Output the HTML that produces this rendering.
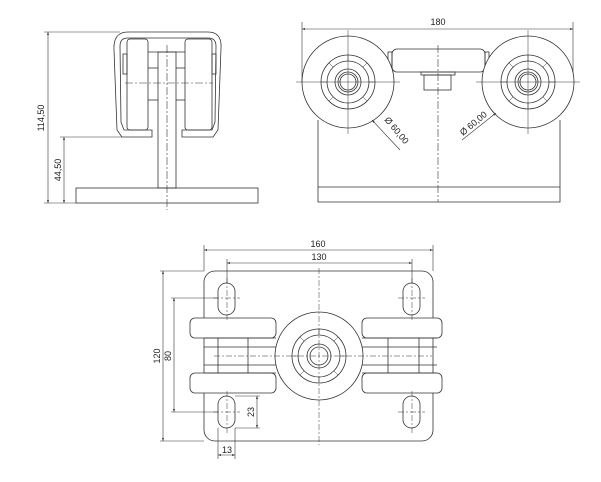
<!DOCTYPE html>
<html><head><meta charset="utf-8"><style>
html,body{margin:0;padding:0;background:#fff;}
svg{display:block;}
text{font-family:"Liberation Sans",sans-serif;font-size:9px;fill:#222;}
</style></head><body>
<svg width="601" height="482" viewBox="0 0 601 482" xmlns="http://www.w3.org/2000/svg">
<defs>
<marker id="a" viewBox="0 0 6 6" refX="6" refY="3" markerWidth="5" markerHeight="5" orient="auto-start-reverse"><path d="M0,1 L6,3 L0,5z" fill="#333"/></marker>
</defs>
<g fill="none" stroke="#333" stroke-width="0.8">
<!-- VIEW 1 -->
<path d="M122,137 L117,130 L114,50 Q113,32 128,32 L208,32 Q222,32 221,48 L218,130 L213,137 L182,137 L182,130 L212,130 L215,122 L216,46 Q216,38 208,38 L128,38 Q120,38 120,46 L121,122 L124,130 L152,130 L152,137 Z"/>
<rect x="127" y="39" width="21" height="91" rx="3"/>
<rect x="185" y="39" width="27" height="91" rx="3"/>
<rect x="123" y="54" width="4" height="20"/>
<rect x="212" y="54" width="4" height="20"/>
<line x1="148" y1="52" x2="185" y2="52"/>
<line x1="148" y1="68" x2="158" y2="68"/><line x1="176" y1="68" x2="185" y2="68"/>
<line x1="148" y1="100" x2="158" y2="100"/><line x1="176" y1="100" x2="185" y2="100"/>
<rect x="158" y="52" width="18" height="136"/>
<rect x="76" y="188" width="182" height="15"/>
<line x1="167" y1="45" x2="167" y2="210" stroke-dasharray="8,2,2,2" stroke-width="0.6"/>
<line x1="125" y1="83" x2="213" y2="83" stroke-dasharray="8,2,2,2" stroke-width="0.6"/>
<line x1="44" y1="32" x2="120" y2="32" stroke-width="0.6"/>
<line x1="44" y1="203" x2="76" y2="203" stroke-width="0.6"/>
<line x1="60" y1="137" x2="122" y2="137" stroke-width="0.6"/>
<line x1="48" y1="32" x2="48" y2="203" marker-start="url(#a)" marker-end="url(#a)" stroke-width="0.6"/>
<line x1="64" y1="137" x2="64" y2="203" marker-start="url(#a)" marker-end="url(#a)" stroke-width="0.6"/>

<!-- VIEW 2 -->
<line x1="302" y1="22" x2="302" y2="82" stroke-width="0.6"/>
<line x1="573" y1="22" x2="573" y2="82" stroke-width="0.6"/>
<line x1="302" y1="29" x2="573" y2="29" marker-start="url(#a)" marker-end="url(#a)" stroke-width="0.6"/>
<path d="M318,120 L318,202 L560,202 L560,120"/>
<line x1="318" y1="187" x2="560" y2="187"/>
<rect x="392" y="49" width="93" height="23" rx="5"/>
<rect x="388" y="52" width="4" height="16"/><rect x="485" y="52" width="4" height="16"/>
<rect x="421" y="72" width="34" height="3"/>
<rect x="424" y="75" width="27" height="15"/>
<line x1="438" y1="45" x2="438" y2="202" stroke-dasharray="8,2,2,2" stroke-width="0.6"/>
<g id="w">
<circle cx="348" cy="82" r="46" fill="#fff"/>
<circle cx="348" cy="82" r="27"/>
<circle cx="348" cy="82" r="21"/>
<circle cx="348" cy="82" r="13"/>
<circle cx="348" cy="82" r="10"/>
<circle cx="348" cy="82" r="8"/>
<g stroke-width="0.5">
<line x1="348" y1="55" x2="348" y2="61"/><line x1="348" y1="103" x2="348" y2="109"/>
<line x1="321" y1="82" x2="327" y2="82"/><line x1="369" y1="82" x2="375" y2="82"/>
<line x1="329" y1="63" x2="333" y2="67"/><line x1="367" y1="63" x2="363" y2="67"/>
<line x1="329" y1="101" x2="333" y2="97"/><line x1="367" y1="101" x2="363" y2="97"/>
</g>
<line x1="348" y1="30" x2="348" y2="134" stroke-width="0.5"/>
<line x1="296" y1="82" x2="400" y2="82" stroke-width="0.5"/>
</g>
<use href="#w" x="180"/>
<line x1="400" y1="150" x2="372" y2="120" stroke-width="0.6" marker-end="url(#a)"/>
<line x1="462" y1="140" x2="496" y2="113" stroke-width="0.6" marker-end="url(#a)"/>

<!-- VIEW 3 -->
<rect x="204" y="271" width="229" height="170" rx="11" fill="#fff"/>
<g fill="#fff">
<rect x="190" y="318" width="86" height="20" rx="5"/>
<rect x="190" y="373" width="86" height="20" rx="5"/>
<rect x="362" y="318" width="80" height="20" rx="5"/>
<rect x="362" y="373" width="80" height="20" rx="5"/>
</g>
<path d="M204,338 L276,338 M204,373 L276,373 M204,347 L276,347 M204,365 L276,365"/>
<path d="M362,338 L437,338 M362,373 L437,373 M362,347 L437,347 M362,365 L437,365"/>
<path d="M218,338 V373 M248,338 V373 M388,338 V373 M419,338 V373"/>
<circle cx="319" cy="356" r="44" fill="#fff"/>
<circle cx="319" cy="356" r="27"/>
<circle cx="319" cy="356" r="21"/>
<circle cx="319" cy="356" r="12"/>
<circle cx="319" cy="356" r="9"/>
<g stroke-width="0.5">
<line x1="319" y1="329" x2="319" y2="335"/><line x1="319" y1="377" x2="319" y2="383"/>
<line x1="292" y1="356" x2="298" y2="356"/><line x1="340" y1="356" x2="346" y2="356"/>
<line x1="300" y1="337" x2="304" y2="341"/><line x1="338" y1="337" x2="334" y2="341"/>
<line x1="300" y1="375" x2="304" y2="371"/><line x1="338" y1="375" x2="334" y2="371"/>
</g>
<rect x="218" y="283" width="17" height="32" rx="8.5"/>
<rect x="403" y="283" width="17" height="32" rx="8.5"/>
<rect x="218" y="396" width="17" height="32" rx="8.5"/>
<rect x="403" y="396" width="17" height="32" rx="8.5"/>
<g stroke-dasharray="6,2,2,2" stroke-width="0.5">
<line x1="319" y1="268" x2="319" y2="445"/>
<line x1="214" y1="356" x2="432" y2="356"/>
<line x1="227" y1="278" x2="227" y2="320"/><line x1="412" y1="278" x2="412" y2="320"/>
<line x1="227" y1="391" x2="227" y2="433"/><line x1="412" y1="391" x2="412" y2="433"/>
<line x1="213" y1="298" x2="240" y2="298"/><line x1="398" y1="298" x2="425" y2="298"/>
<line x1="213" y1="412" x2="240" y2="412"/><line x1="398" y1="412" x2="425" y2="412"/>
</g>
<g stroke-width="0.6">
<line x1="204" y1="245" x2="204" y2="271"/><line x1="433" y1="245" x2="433" y2="271"/>
<line x1="204" y1="250" x2="433" y2="250" marker-start="url(#a)" marker-end="url(#a)"/>
<line x1="227" y1="259" x2="227" y2="283"/><line x1="412" y1="259" x2="412" y2="283"/>
<line x1="227" y1="263" x2="412" y2="263" marker-start="url(#a)" marker-end="url(#a)"/>
<line x1="160" y1="271" x2="204" y2="271"/><line x1="160" y1="441" x2="204" y2="441"/>
<line x1="163" y1="271" x2="163" y2="441" marker-start="url(#a)" marker-end="url(#a)"/>
<line x1="171" y1="298" x2="218" y2="298"/><line x1="171" y1="412" x2="218" y2="412"/>
<line x1="174" y1="298" x2="174" y2="412" marker-start="url(#a)" marker-end="url(#a)"/>
<line x1="235" y1="396" x2="260" y2="396"/><line x1="235" y1="428" x2="260" y2="428"/>
<line x1="257" y1="396" x2="257" y2="428" marker-start="url(#a)" marker-end="url(#a)"/>
<line x1="218" y1="428" x2="218" y2="459"/><line x1="235" y1="428" x2="235" y2="459"/>
<line x1="218" y1="455" x2="235" y2="455" marker-start="url(#a)" marker-end="url(#a)"/>
</g>
</g>
<text x="438" y="25" text-anchor="middle">180</text>
<text transform="translate(44,118) rotate(-90)" text-anchor="middle">114,50</text>
<text transform="translate(61,170) rotate(-90)" text-anchor="middle">44,50</text>
<text transform="translate(384,120) rotate(50)">Ø 60,00</text>
<text transform="translate(463,136) rotate(-40)">Ø 60,00</text>
<text x="318" y="247" text-anchor="middle">160</text>
<text x="319" y="260" text-anchor="middle">130</text>
<text transform="translate(160,356) rotate(-90)" text-anchor="middle">120</text>
<text transform="translate(171,356) rotate(-90)" text-anchor="middle">80</text>
<text transform="translate(254,412) rotate(-90)" text-anchor="middle">23</text>
<text x="227" y="453" text-anchor="middle">13</text>
</svg>
</body></html>
